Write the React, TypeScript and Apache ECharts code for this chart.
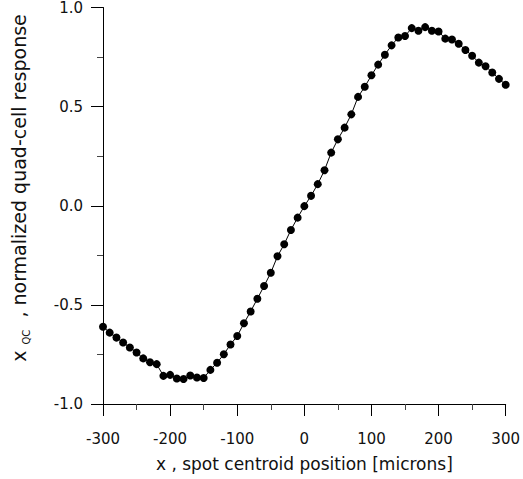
import React, { useEffect, useRef } from "react";
import * as echarts from "echarts";

const xPositions: number[] = [
  -300, -290, -280, -270, -260, -250, -240, -230, -220, -210,
  -200, -190, -180, -170, -160, -150, -140, -130, -120, -110,
  -100, -90, -80, -70, -60, -50, -40, -30, -20, -10,
  0, 10, 20, 30, 40, 50, 60, 70, 80, 90,
  100, 110, 120, 130, 140, 150, 160, 170, 180, 190,
  200, 210, 220, 230, 240, 250, 260, 270, 280, 290, 300,
];

const response: number[] = [
  -0.61, -0.64, -0.665, -0.69, -0.715, -0.74, -0.77, -0.789, -0.799, -0.858,
  -0.853, -0.871, -0.874, -0.856, -0.866, -0.869, -0.828, -0.792, -0.749, -0.7,
  -0.657, -0.593, -0.533, -0.469, -0.405, -0.338, -0.255, -0.194, -0.122, -0.06,
  -0.002, 0.05, 0.109, 0.179, 0.268, 0.335, 0.394, 0.461, 0.549, 0.6,
  0.658, 0.712, 0.762, 0.809, 0.849, 0.856, 0.896, 0.883, 0.901, 0.883,
  0.879, 0.843, 0.839, 0.817, 0.786, 0.757, 0.722, 0.704, 0.672, 0.64, 0.61,
];

const FONT = "DejaVu Sans";

export default function App() {
  const ref = useRef<HTMLDivElement>(null);
  useEffect(() => {
    if (!ref.current) return;
    const chart = echarts.init(ref.current, null, { renderer: "svg" });
    const data = xPositions.map((x, i) => [x, response[i]]);
    chart.setOption({
      animation: false,
      backgroundColor: "#fff",
      grid: { left: 103, right: 17, top: 6, bottom: 75, containLabel: false },
      xAxis: {
        type: "value",
        min: -300,
        max: 300,
        interval: 100,
        name: "x , spot centroid position [microns]",
        nameLocation: "middle",
        nameGap: 51,
        nameTextStyle: { fontFamily: FONT, fontSize: 17, color: "#111" },
        axisLine: { show: true, onZero: false, lineStyle: { color: "#000", width: 1 } },
        axisTick: { show: true, inside: false, length: 12, lineStyle: { color: "#000" } },
        minorTick: { show: true, splitNumber: 2, length: 6, lineStyle: { color: "#444" } },
        axisLabel: { fontFamily: FONT, fontSize: 15, color: "#111", margin: 27 },
        splitLine: { show: false },
      },
      yAxis: {
        type: "value",
        min: -1,
        max: 1,
        interval: 0.5,
        axisLine: { show: true, onZero: false, lineStyle: { color: "#000", width: 1 } },
        axisTick: { show: true, inside: false, length: 12, lineStyle: { color: "#000" } },
        minorTick: { show: true, splitNumber: 2, length: 6, lineStyle: { color: "#444" } },
        axisLabel: {
          fontFamily: FONT,
          fontSize: 15,
          color: "#111",
          margin: 20,
          formatter: (v: number) => v.toFixed(1),
        },
        splitLine: { show: false },
      },
      graphic: [
        {
          type: "text",
          x: 19,
          y: 188,
          rotation: Math.PI / 2,
          style: {
            text: "{a|x}{b|QC}{a| , normalized quad-cell response}",
            align: "center",
            verticalAlign: "middle",
            fontFamily: FONT,
            fill: "#111",
            rich: {
              a: { fontFamily: FONT, fontSize: 19, color: "#111", lineHeight: 24, verticalAlign: "middle" },
              b: { fontFamily: FONT, fontSize: 10, color: "#111", lineHeight: 24, verticalAlign: "bottom", padding: [0, 6, 0, 6] },
            },
          },
        },
      ],
      series: [
        {
          type: "line",
          data,
          symbol: "circle",
          symbolSize: 8,
          showSymbol: true,
          itemStyle: { color: "#000" },
          lineStyle: { color: "#000", width: 1 },
          emphasis: { disabled: true },
        },
      ],
    });
    return () => chart.dispose();
  }, []);
  return <div ref={ref} style={{ width: 523, height: 479, position: "absolute", left: 0, top: 0 }} />;
}
